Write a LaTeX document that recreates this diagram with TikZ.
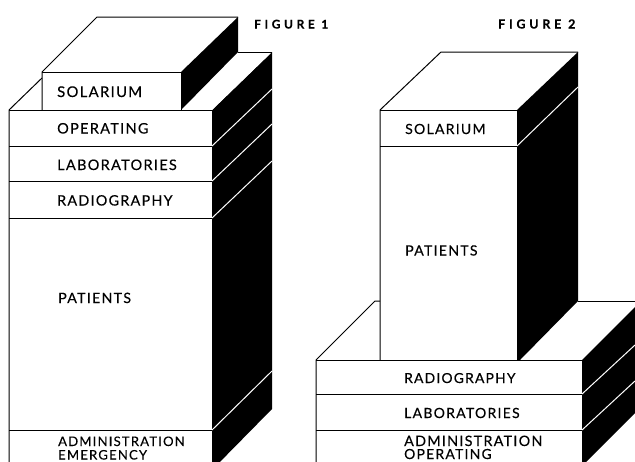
\documentclass[tikz,border=0pt]{standalone}
\usepackage{fontspec}
\setmainfont{Lato}[LetterSpace=9,FakeBold=0.25]
\newfontfamily\figfont{Lato Bold}[LetterSpace=30,FakeBold=0.3]
\tikzset{
  x=1pt,y=-1pt,
  edge/.style={draw=black,line width=1pt,line join=round},
  side/.style={fill=black,draw=none},
  band/.style={draw=white,line width=1pt},
  lab/.style={anchor=base west,inner sep=0pt,font=\fontsize{#1}{#1}\selectfont},
  figlab/.style={anchor=base west,inner sep=0pt,font=\figfont\fontsize{#1}{#1}\selectfont},
}
\begin{document}
\begin{tikzpicture}
\useasboundingbox (0,0) rectangle (635,461);
\begin{scope}
\clip (0,0) rectangle (635,461);
% Figure 1 - tower
\fill[side] (212,110) -- (272,52) -- (272,409) -- (212,470) -- cycle;
\fill[white] (181,110) -- (238,52) -- (272,52) -- (212,110) -- cycle;
\draw[edge] (238,52) -- (272,52);
\draw[edge] (9,470) -- (9,110) -- (42,78);
\draw[edge] (9,110) -- (212,110);
\draw[edge] (9,146) -- (212,146);
\draw[edge] (9,181) -- (212,181);
\draw[edge] (9,218) -- (212,218);
\draw[edge] (9,430) -- (212,430);
\draw[band] (212,146) -- (272,89);
\draw[band] (212,181) -- (272,124);
\draw[band] (212,218) -- (272,161);
\draw[band] (212,430) -- (272,371);
% Figure 1 - solarium
\fill[side] (181,72) -- (238,17) -- (238,52) -- (181,110) -- cycle;
\draw[edge] (42,110) -- (42,72) -- (97,17) -- (238,17);
\draw[edge] (42,72) -- (181,72) -- (181,110);
% Figure 2 - lower block
\fill[side] (582,360) -- (635,307) -- (635,413) -- (582,466) -- cycle;
\draw[edge] (316,470) -- (316,360) -- (375,301) -- (380,301);
\draw[edge] (578,301) -- (635,301);
\draw[edge] (316,360) -- (582,360);
\draw[edge] (316,394) -- (582,394);
\draw[edge] (316,430) -- (582,430);
\draw[band] (582,394) -- (635,345);
\draw[band] (582,430) -- (635,381);
% Figure 2 - upper block
\fill[side] (517,110) -- (578,52) -- (578,301) -- (520,360) -- (517,360) -- cycle;
\draw[edge] (380,360) -- (380,110) -- (441,52) -- (578,52);
\draw[edge] (380,110) -- (517,110);
\draw[edge] (380,146) -- (517,146);
\draw[band] (517,146) -- (578,87);
\end{scope}
% Labels
\node[figlab=12] (f1) at (254,28.5) {FIGURE 1};
\node[figlab=12.5] (f2) at (498,28.5) {FIGURE 2};
\node[lab=14.8] (a1) at (57,97) {SOLARIUM};
\node[lab=14.5] (a2) at (57,133.5) {OPERATING};
\node[lab=14.5] (a3) at (57,170) {LABORATORIES};
\node[lab=14.3] (a4) at (57,205.5) {RADIOGRAPHY};
\node[lab=14.2] (a5) at (58,303) {PATIENTS};
\node[lab=13.1] (a6) at (58,446) {ADMINISTRATION};
\node[lab=13.1] (a7) at (58,459.5) {EMERGENCY};
\node[lab=14] (b1) at (405,134) {SOLARIUM};
\node[lab=14.1] (b2) at (405,255.5) {PATIENTS};
\node[lab=13.8] (b3) at (404,383) {RADIOGRAPHY};
\node[lab=14] (b4) at (404,418) {LABORATORIES};
\node[lab=14.3] (b5) at (404,446) {ADMINISTRATION};
\node[lab=13.9] (b6) at (404,459) {OPERATING};
\end{tikzpicture}
\end{document}
